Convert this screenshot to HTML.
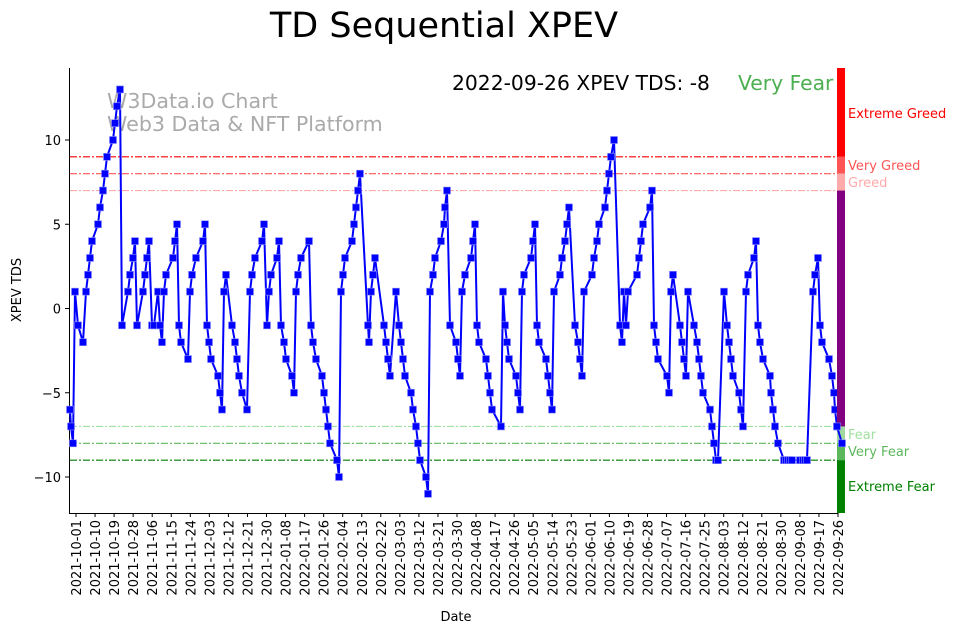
<!DOCTYPE html>
<html><head><meta charset="utf-8"><style>
body{margin:0;background:#fff;width:962px;height:633px;overflow:hidden}
svg{font-family:"DejaVu Sans","Liberation Sans",sans-serif}
</style></head><body>
<svg id="s" width="962" height="633" xmlns="http://www.w3.org/2000/svg">
<text x="444" y="37" font-size="35" text-anchor="middle">TD Sequential XPEV</text>
<text x="452" y="90" font-size="20.3">2022-09-26 XPEV TDS: -8</text>
<text x="738" y="90" font-size="20.3" fill="#4caf50">Very Fear</text>
<text x="107" y="108" font-size="20.6" fill="#aaa">W3Data.io Chart</text>
<text x="107" y="131" font-size="20.6" fill="#aaa">Web3 Data &amp; NFT Platform</text>
<g id="g"></g>
<text x="456" y="621" font-size="13" text-anchor="middle">Date</text>
<text transform="translate(21,290) rotate(-90)" font-size="13" text-anchor="middle">XPEV TDS</text>
</svg>
<script>
const NS="http://www.w3.org/2000/svg",g=document.getElementById('g');
function el(t,a,txt){const e=document.createElementNS(NS,t);for(const k in a)e.setAttribute(k,a[k]);if(txt!==undefined)e.textContent=txt;g.appendChild(e);return e;}
const Y=v=>308.5-v*16.85;
[[9,'#ff0000'],[8,'#ff5555'],[7,'#ffaaaa'],[-7,'#a0e0a0'],[-8,'#5cb85c'],[-9,'#008000']].forEach(([v,c])=>el('line',{x1:70,x2:838,y1:Y(v),y2:Y(v),stroke:c,'stroke-width':1.1,'stroke-dasharray':'7,2,2,2'}));
el('line',{x1:69.5,x2:69.5,y1:68,y2:513.5,stroke:'#000','stroke-width':1});
el('line',{x1:69,x2:838,y1:513.5,y2:513.5,stroke:'#000','stroke-width':1});
[10,5,0,-5,-10].forEach(v=>{el('line',{x1:65,x2:69,y1:Y(v),y2:Y(v),stroke:'#000'});el('text',{x:61,y:Y(v)+5,'font-size':13,'text-anchor':'end'},v<0?'\u2212'+(-v):''+v);});
let d=new Date(Date.UTC(2021,9,1));
for(let i=0;i<41;i++){const x=76+i*19.05;el('line',{x1:x,x2:x,y1:513,y2:517,stroke:'#000'});
const s=d.toISOString().slice(0,10);el('text',{transform:`translate(${x+5},520) rotate(-90)`,'font-size':13,'text-anchor':'end'},s);d=new Date(d.getTime()+9*864e5);}
const P=[[70,-6],[71,-7],[73,-8],[75,1],[78,-1],[83,-2],[86,1],[88,2],[90,3],[92,4],[98,5],[100,6],[103,7],[105,8],[107,9],[113,10],[115,11],[117,12],[120,13],[122,-1],[128,1],[130,2],[133,3],[135,4],[137,-1],[143,1],[145,2],[147,3],[149,4],[152,-1],[154,-1],[158,1],[160,-1],[162,-2],[164,1],[166,2],[173,3],[175,4],[177,5],[179,-1],[181,-2],[188,-3],[190,1],[192,2],[196,3],[203,4],[205,5],[207,-1],[209,-2],[211,-3],[218,-4],[220,-5],[222,-6],[224,1],[226,2],[232,-1],[235,-2],[237,-3],[239,-4],[242,-5],[247,-6],[250,1],[252,2],[255,3],[262,4],[264,5],[267,-1],[269,1],[271,2],[277,3],[279,4],[281,-1],[284,-2],[286,-3],[292,-4],[294,-5],[296,1],[298,2],[301,3],[309,4],[311,-1],[313,-2],[316,-3],[322,-4],[324,-5],[326,-6],[328,-7],[330,-8],[337,-9],[339,-10],[341,1],[343,2],[345,3],[352,4],[354,5],[356,6],[358,7],[360,8],[368,-1],[369,-2],[371,1],[373,2],[375,3],[384,-1],[386,-2],[388,-3],[390,-4],[396,1],[399,-1],[401,-2],[403,-3],[405,-4],[411,-5],[413,-6],[416,-7],[418,-8],[420,-9],[426,-10],[428,-11],[430,1],[433,2],[435,3],[441,4],[444,5],[445,6],[447,7],[450,-1],[456,-2],[458,-3],[460,-4],[462,1],[465,2],[471,3],[473,4],[475,5],[477,-1],[479,-2],[486,-3],[488,-4],[490,-5],[492,-6],[501,-7],[503,1],[505,-1],[507,-2],[509,-3],[516,-4],[518,-5],[520,-6],[522,1],[524,2],[531,3],[533,4],[535,5],[537,-1],[539,-2],[546,-3],[548,-4],[550,-5],[552,-6],[554,1],[560,2],[562,3],[565,4],[567,5],[569,6],[575,-1],[578,-2],[580,-3],[582,-4],[584,1],[592,2],[594,3],[597,4],[599,5],[605,6],[607,7],[609,8],[611,9],[614,10],[620,-1],[622,-2],[624,1],[626,-1],[628,1],[637,2],[639,3],[641,4],[643,5],[650,6],[652,7],[654,-1],[656,-2],[658,-3],[667,-4],[669,-5],[671,1],[673,2],[680,-1],[682,-2],[684,-3],[686,-4],[688,1],[694,-1],[697,-2],[699,-3],[701,-4],[703,-5],[710,-6],[712,-7],[714,-8],[716,-9],[718,-9],[724,1],[727,-1],[729,-2],[731,-3],[733,-4],[739,-5],[741,-6],[743,-7],[746,1],[748,2],[754,3],[756,4],[758,-1],[760,-2],[763,-3],[770,-4],[771,-5],[773,-6],[775,-7],[778,-8],[784,-9],[786,-9],[788,-9],[790,-9],[792,-9],[800,-9],[803,-9],[805,-9],[807,-9],[813,1],[815,2],[818,3],[820,-1],[822,-2],[829,-3],[832,-4],[834,-5],[835,-6],[837,-7],[842,-8]];
function series(pts){
el('polyline',{points:pts.map(p=>p[0]+','+Y(p[1]).toFixed(1)).join(' '),fill:'none',stroke:'#0000ff','stroke-width':2});
pts.forEach(p=>el('rect',{x:p[0]-3.5,y:Y(p[1])-3.5,width:7,height:7,fill:'#0000ff',stroke:'#8888ff','stroke-width':0.6}));}
series(P.slice(0,-1));
[[68,Y(9),'#ff0000'],[Y(9),Y(8),'#ff5555'],[Y(8),Y(7),'#ffaaaa'],[Y(7),Y(-7),'#800080'],[Y(-7),Y(-8),'#a0d8a0'],[Y(-8),Y(-9),'#5cb85c'],[Y(-9),513,'#008000']].forEach(([a,b,c])=>el('rect',{x:837,y:a,width:8,height:b-a,fill:c}));
series(P.slice(-2));
el('rect',{x:846,y:60,width:116,height:40,fill:'#fff'});
[['Extreme Greed',118,'#ff0000'],['Very Greed',170,'#ff5555'],['Greed',187,'#ffaaaa'],['Fear',439,'#a0e0a0'],['Very Fear',456,'#5cb85c'],['Extreme Fear',491,'#008000']].forEach(([t,y,c])=>el('text',{x:848,y:y,'font-size':13,fill:c},t));
</script>
</body></html>
